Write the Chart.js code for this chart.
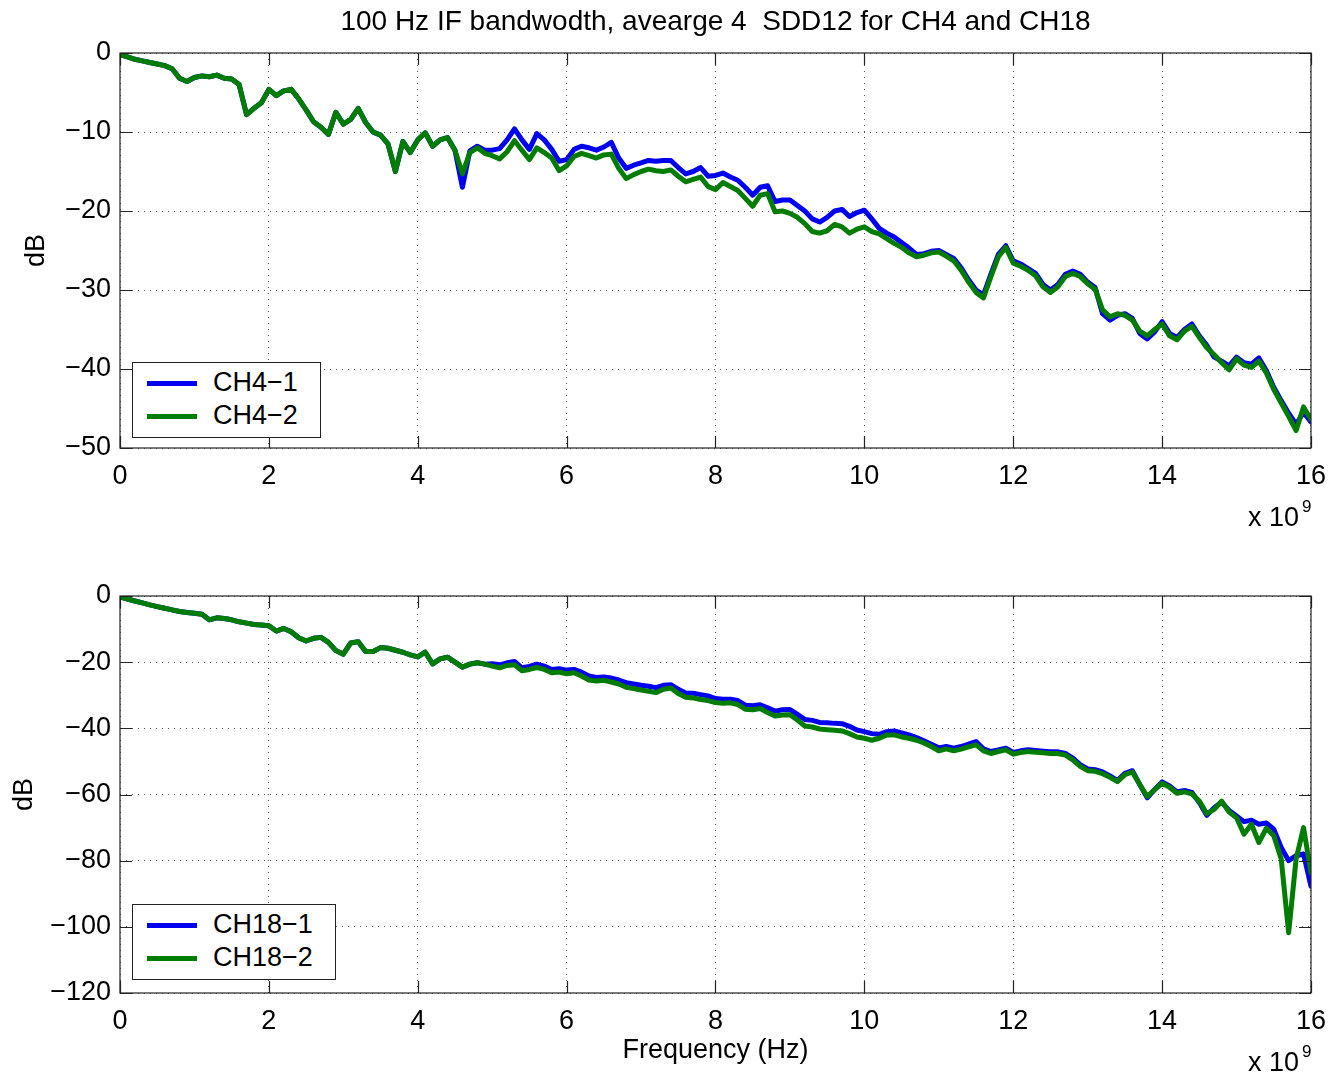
<!DOCTYPE html>
<html>
<head>
<meta charset="utf-8">
<title>SDD12 for CH4 and CH18</title>
<script src="https://cdn.jsdelivr.net/npm/chart.js@4.4.1/dist/chart.umd.min.js"></script>
<style>
  body { margin: 0; background: #fff; }
  #wrap { position: relative; width: 1332px; height: 1079px; overflow: hidden; }
  canvas { position: absolute; left: 0; }
  #topChart { top: 0; }
  #bottomChart { top: 540px; }
  .legend { position: absolute; border: 1px solid #222; background: #fff; padding: 3px 22px 5px 0;
            font: 27px "Liberation Sans", Arial, sans-serif; color: #000; }
  .legend div { height: 33px; line-height: 33px; white-space: nowrap; }
  .legend .swatch { display: inline-block; width: 50px; height: 5px; vertical-align: middle; margin: 0 16px 0 14px; }
</style>
</head>
<body>
<div id="wrap">
  <canvas id="topChart" width="1338" height="540"></canvas>
  <canvas id="bottomChart" width="1338" height="539"></canvas>
  <div class="legend" id="topLegend" style="left:132px; top:362px;"></div>
  <div class="legend" id="bottomLegend" style="left:132px; top:904px;"></div>
</div>
<script>
'use strict';

// frequency in GHz (axis shows x 10^9 Hz)
const freqGHz = [
  0.0, 0.1, 0.2, 0.3, 0.4, 0.5, 0.6, 0.7, 0.8, 0.9,
  1.0, 1.1, 1.2, 1.3, 1.4, 1.5, 1.6, 1.7, 1.8, 1.9,
  2.0, 2.1, 2.2, 2.3, 2.4, 2.5, 2.6, 2.7, 2.8, 2.9,
  3.0, 3.1, 3.2, 3.3, 3.4, 3.5, 3.6, 3.7, 3.8, 3.9,
  4.0, 4.1, 4.2, 4.3, 4.4, 4.5, 4.6, 4.7, 4.8, 4.9,
  5.0, 5.1, 5.2, 5.3, 5.4, 5.5, 5.6, 5.7, 5.8, 5.9,
  6.0, 6.1, 6.2, 6.3, 6.4, 6.5, 6.6, 6.7, 6.8, 6.9,
  7.0, 7.1, 7.2, 7.3, 7.4, 7.5, 7.6, 7.7, 7.8, 7.9,
  8.0, 8.1, 8.2, 8.3, 8.4, 8.5, 8.6, 8.7, 8.8, 8.9,
  9.0, 9.1, 9.2, 9.3, 9.4, 9.5, 9.6, 9.7, 9.8, 9.9,
  10.0, 10.1, 10.2, 10.3, 10.4, 10.5, 10.6, 10.7, 10.8, 10.9,
  11.0, 11.1, 11.2, 11.3, 11.4, 11.5, 11.6, 11.7, 11.8, 11.9,
  12.0, 12.1, 12.2, 12.3, 12.4, 12.5, 12.6, 12.7, 12.8, 12.9,
  13.0, 13.1, 13.2, 13.3, 13.4, 13.5, 13.6, 13.7, 13.8, 13.9,
  14.0, 14.1, 14.2, 14.3, 14.4, 14.5, 14.6, 14.7, 14.8, 14.9,
  15.0, 15.1, 15.2, 15.3, 15.4, 15.5, 15.6, 15.7, 15.8, 15.9,
  16.0
];

const ch4_1 = [
  -0.2,-0.5,-0.8,-1.0,-1.2,-1.4,-1.6,-2.0,-3.2,-3.6,
  -3.1,-2.9,-3.0,-2.8,-3.2,-3.3,-4.0,-7.8,-7.0,-6.3,
  -4.6,-5.4,-4.8,-4.6,-5.8,-7.2,-8.7,-9.4,-10.3,-7.5,
  -9.0,-8.4,-7.0,-8.8,-10.0,-10.4,-11.5,-15.0,-11.2,-12.6,
  -11.0,-10.1,-11.8,-11.0,-10.7,-12.3,-17.0,-12.4,-11.8,-12.3,
  -12.3,-12.1,-11.0,-9.6,-11.0,-12.2,-10.2,-11.0,-12.2,-13.7,
  -13.5,-12.2,-11.8,-12.0,-12.3,-11.9,-11.3,-13.3,-14.6,-14.2,
  -13.9,-13.6,-13.7,-13.6,-13.6,-14.5,-15.3,-15.0,-14.5,-15.6,
  -15.5,-15.2,-15.7,-16.1,-17.0,-18.0,-17.0,-16.8,-18.8,-18.6,
  -18.6,-19.3,-20.0,-21.0,-21.4,-20.8,-20.0,-19.8,-20.7,-20.2,
  -19.9,-21.0,-22.2,-22.8,-23.3,-24.0,-24.7,-25.5,-25.4,-25.1,
  -25.0,-25.5,-26.0,-27.2,-28.7,-30.0,-30.6,-28.0,-25.5,-24.4,
  -26.3,-26.7,-27.3,-27.9,-29.3,-30.0,-29.3,-28.0,-27.6,-28.0,
  -29.0,-29.7,-33.0,-33.8,-33.2,-33.0,-33.6,-35.5,-36.2,-35.3,
  -34.0,-35.5,-36.0,-35.0,-34.3,-35.8,-37.0,-38.5,-39.0,-39.6,
  -38.5,-39.2,-39.4,-38.6,-40.2,-42.3,-44.0,-45.6,-47.0,-45.5,
  -46.7
];

const ch4_2 = [
  -0.2,-0.5,-0.8,-1.0,-1.2,-1.4,-1.6,-2.0,-3.2,-3.6,
  -3.1,-2.9,-3.0,-2.8,-3.2,-3.3,-4.0,-7.8,-7.0,-6.3,
  -4.6,-5.4,-4.8,-4.6,-5.8,-7.2,-8.7,-9.4,-10.3,-7.5,
  -9.0,-8.4,-7.0,-8.8,-10.0,-10.4,-11.5,-15.0,-11.2,-12.6,
  -11.0,-10.1,-11.8,-11.0,-10.7,-12.3,-15.3,-12.6,-12.0,-12.7,
  -13.0,-13.4,-12.5,-11.1,-12.3,-13.5,-12.0,-12.6,-13.3,-14.9,
  -14.3,-13.1,-12.7,-13.0,-13.3,-12.9,-12.8,-14.6,-15.9,-15.4,
  -15.0,-14.7,-14.9,-15.0,-14.8,-15.6,-16.3,-16.0,-15.7,-16.9,
  -17.3,-16.4,-16.9,-17.4,-18.4,-19.4,-18.0,-17.8,-20.1,-20.0,
  -20.3,-20.8,-21.6,-22.6,-22.8,-22.5,-21.7,-22.0,-22.8,-22.3,
  -22.0,-22.6,-22.9,-23.5,-24.1,-24.6,-25.3,-25.8,-25.6,-25.3,
  -25.2,-25.7,-26.3,-27.5,-29.0,-30.3,-31.0,-28.3,-25.8,-24.6,
  -26.6,-27.0,-27.5,-28.2,-29.6,-30.3,-29.6,-28.3,-27.9,-28.3,
  -29.2,-29.9,-32.5,-33.4,-33.0,-33.2,-33.8,-35.2,-35.8,-35.0,
  -34.3,-35.8,-36.3,-35.2,-34.6,-36.0,-37.3,-38.2,-39.2,-40.1,
  -38.7,-39.5,-39.8,-39.0,-40.5,-42.6,-44.3,-46.0,-47.8,-44.8,
  -46.4
];

const ch18_1 = [
  -0.3,-0.9,-1.5,-2.1,-2.7,-3.2,-3.7,-4.2,-4.7,-5.0,
  -5.2,-5.5,-7.2,-6.6,-6.8,-7.2,-7.8,-8.2,-8.6,-8.8,
  -9.0,-10.6,-9.8,-10.8,-12.6,-13.6,-12.8,-12.5,-14.0,-16.5,
  -17.6,-14.2,-13.8,-16.8,-16.8,-15.6,-15.8,-16.4,-17.0,-17.8,
  -18.4,-17.0,-20.5,-19.0,-18.5,-20.0,-21.5,-20.6,-20.2,-20.6,
  -20.5,-20.8,-20.2,-19.8,-21.7,-21.3,-20.6,-21.2,-22.2,-22.0,
  -22.4,-22.2,-23.0,-24.2,-24.6,-24.5,-24.8,-25.4,-26.2,-26.6,
  -27.0,-27.3,-27.7,-27.0,-26.8,-28.2,-29.3,-29.4,-29.8,-30.2,
  -31.0,-31.2,-31.2,-31.6,-33.0,-33.2,-32.9,-33.8,-34.8,-34.4,
  -34.3,-35.8,-37.3,-37.6,-38.2,-38.3,-38.5,-38.6,-39.4,-40.5,
  -41.0,-41.6,-41.8,-41.0,-40.8,-41.4,-42.0,-42.8,-43.8,-44.8,
  -45.9,-45.5,-46.0,-45.5,-44.8,-44.0,-46.2,-47.0,-46.5,-46.0,
  -47.3,-46.8,-46.5,-46.7,-46.9,-47.1,-47.1,-47.6,-49.0,-51.0,
  -52.3,-52.5,-53.2,-54.4,-55.8,-53.6,-52.8,-57.0,-61.0,-58.5,
  -56.2,-57.4,-59.2,-58.8,-59.4,-62.4,-66.3,-64.0,-62.3,-64.8,
  -66.5,-68.2,-67.8,-69.0,-68.6,-70.5,-76.0,-80.0,-78.5,-78.0,
  -87.7
];

const ch18_2 = [
  -0.3,-0.9,-1.5,-2.1,-2.7,-3.2,-3.7,-4.2,-4.7,-5.0,
  -5.2,-5.5,-7.2,-6.6,-6.8,-7.2,-7.8,-8.2,-8.6,-8.8,
  -9.0,-10.6,-9.8,-10.8,-12.6,-13.6,-12.8,-12.5,-14.0,-16.5,
  -17.6,-14.2,-13.8,-16.8,-16.8,-15.6,-15.8,-16.4,-17.0,-17.8,
  -18.4,-17.0,-20.5,-19.0,-18.5,-20.0,-21.5,-20.6,-20.2,-20.6,
  -21.2,-21.7,-21.0,-20.8,-22.6,-22.2,-21.6,-22.2,-23.2,-23.0,
  -23.5,-23.2,-24.2,-25.4,-25.7,-25.5,-26.0,-26.6,-27.6,-28.0,
  -28.4,-28.8,-29.2,-28.2,-27.8,-29.5,-30.6,-30.8,-31.3,-31.6,
  -32.2,-32.4,-32.3,-32.8,-34.2,-34.4,-34.0,-35.2,-36.3,-36.0,
  -35.9,-37.5,-39.3,-39.6,-40.2,-40.4,-40.6,-40.8,-41.6,-42.6,
  -43.0,-43.6,-43.0,-42.0,-42.0,-42.6,-43.0,-43.6,-44.4,-45.5,
  -46.8,-46.2,-46.8,-46.3,-45.6,-45.0,-46.8,-47.6,-47.0,-46.5,
  -47.8,-47.3,-47.0,-47.2,-47.4,-47.6,-47.6,-48.1,-49.5,-51.5,
  -52.8,-53.0,-53.7,-54.8,-56.1,-54.0,-53.2,-57.0,-60.6,-58.5,
  -56.6,-57.8,-59.6,-59.2,-59.8,-62.0,-65.8,-64.5,-62.0,-65.3,
  -67.0,-72.0,-69.0,-74.5,-70.2,-72.5,-79.5,-101.8,-79.5,-70.0,
  -83.7
];

const topLabels = ['CH4\u22121', 'CH4\u22122'];
const bottomLabels = ['CH18\u22121', 'CH18\u22122'];
const titleText = '100 Hz IF bandwodth, avearge 4  SDD12 for CH4 and CH18';

const BLUE = '#0000f0';
const GREEN = '#007c00';
const FONT = '"Liberation Sans", Arial, sans-serif';

function minusFmt(v) {
  return v < 0 ? '\u2212' + Math.abs(v) : String(v);
}

// draws the matlab-style box, inward ticks and the loose texts
const matlabFrame = {
  id: 'matlabFrame',
  afterDraw(chart, args, opts) {
    const ctx = chart.ctx;
    const a = chart.chartArea;
    const x = chart.scales.x, y = chart.scales.y;
    ctx.save();
    ctx.strokeStyle = '#222';
    ctx.lineWidth = 1.2;
    ctx.strokeRect(a.left, a.top, a.right - a.left, a.bottom - a.top);
    ctx.beginPath();
    x.ticks.forEach(t => {
      let px = Math.round(x.getPixelForValue(t.value)) + 0.5;
      ctx.moveTo(px, a.bottom); ctx.lineTo(px, a.bottom - 12);
      ctx.moveTo(px, a.top); ctx.lineTo(px, a.top + 12);
    });
    y.ticks.forEach(t => {
      let py = Math.round(y.getPixelForValue(t.value)) + 0.5;
      ctx.moveTo(a.left, py); ctx.lineTo(a.left + 12, py);
      ctx.moveTo(a.right, py); ctx.lineTo(a.right - 12, py);
    });
    ctx.stroke();

    ctx.fillStyle = '#000';
    ctx.textBaseline = 'middle';
    ctx.font = '28px ' + FONT;
    if (opts.title) {
      ctx.textAlign = 'center';
      ctx.fillText(opts.title, (a.left + a.right) / 2, 22);
    }
    ctx.font = '27px ' + FONT;
    if (opts.xlabel) {
      ctx.textAlign = 'center';
      ctx.fillText(opts.xlabel, (a.left + a.right) / 2, a.bottom + 58);
    }
    // x 10^9 exponent
    ctx.textAlign = 'left';
    ctx.fillText('x 10', a.right - 63, a.bottom + 71);
    ctx.font = '17px ' + FONT;
    ctx.fillText('9', a.right - 9, a.bottom + 59);
    // y label
    ctx.font = '27px ' + FONT;
    ctx.translate(opts.ylabelX, (a.top + a.bottom) / 2);
    ctx.rotate(-Math.PI / 2);
    ctx.textAlign = 'center';
    ctx.fillText('dB', 0, 0);
    ctx.restore();
  }
};

function makeChart(canvasId, legendId, labels, s1, s2, yMin, yStep, frame, padTop, xAxisH) {
  const ds = [
    { label: labels[0], data: freqGHz.map((f, i) => ({ x: f, y: s1[i] })), borderColor: BLUE, order: 1 },
    { label: labels[1], data: freqGHz.map((f, i) => ({ x: f, y: s2[i] })), borderColor: GREEN, order: 0 }
  ];
  ds.forEach(d => {
    d.borderWidth = 5; d.pointRadius = 0; d.tension = 0; d.fill = false;
    d.borderJoinStyle = 'round'; d.borderCapStyle = 'round';
  });

  const grid = { color: '#555', lineWidth: 1, drawTicks: false };
  const border = { display: false, dash: [1, 5] };
  const chart = new Chart(document.getElementById(canvasId), {
    type: 'line',
    data: { datasets: ds },
    options: {
      responsive: false,
      animation: false,
      layout: { padding: { left: 28, right: 16, top: padTop, bottom: 0 } },
      plugins: {
        legend: { display: false },
        tooltip: { enabled: false },
        matlabFrame: frame
      },
      scales: {
        x: {
          type: 'linear', min: 0, max: 16,
          ticks: { stepSize: 2, padding: 12, color: '#000', font: { size: 27, family: FONT }, maxRotation: 0,
                   callback: v => String(v) },
          grid: grid,
          border: border,
          afterFit: s => { s.height = xAxisH; }
        },
        y: {
          type: 'linear', min: yMin, max: 0,
          ticks: { stepSize: yStep, padding: 9, color: '#000', font: { size: 27, family: FONT }, callback: minusFmt },
          grid: grid,
          border: border,
          afterFit: s => { s.width = 92; }
        }
      }
    },
    plugins: [matlabFrame]
  });

  // html legend built from the datasets
  const box = document.getElementById(legendId);
  chart.data.datasets.forEach(d => {
    const row = document.createElement('div');
    const sw = document.createElement('span');
    sw.className = 'swatch';
    sw.style.background = d.borderColor;
    row.appendChild(sw);
    row.appendChild(document.createTextNode(d.label));
    box.appendChild(row);
  });
  return chart;
}

makeChart('topChart', 'topLegend', topLabels, ch4_1, ch4_2, -50, 10,
  { title: titleText, ylabelX: 37 }, 53, 92);
makeChart('bottomChart', 'bottomLegend', bottomLabels, ch18_1, ch18_2, -120, 20,
  { xlabel: 'Frequency (Hz)', ylabelX: 25 }, 56, 86);
</script>
</body>
</html>
